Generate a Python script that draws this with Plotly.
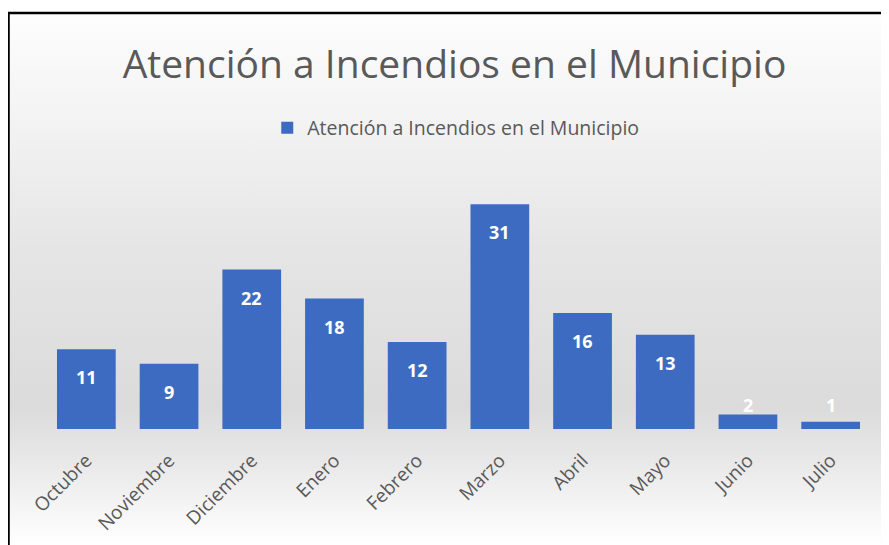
import plotly.graph_objects as go
import urllib.parse

months = ["Octubre", "Noviembre", "Diciembre", "Enero", "Febrero", "Marzo",
          "Abril", "Mayo", "Junio", "Julio"]
values = [11, 9, 22, 18, 12, 31, 16, 13, 2, 1]
series_name = "Atención a Incendios en el Municipio"
title_text = "Atención a Incendios en el Municipio"

OFF = 8  # page body margin
W, H = 889 - OFF, 545 - OFF
# screen pixel targets
PL, PR, PT, PB = 45, 872.5, 160, 429
ML, MT = PL - OFF, PT - OFF
MR, MB = W - (PR - OFF), H - (PB - OFF)
PW, PH = W - ML - MR, H - MT - MB
YMAX = PH / 7.25

def px_x(p):  # screen px -> paper
    return (p - OFF - ML) / PW

def px_y(p):
    return 1 - (p - OFF - MT) / PH

svg = ("<svg xmlns='http://www.w3.org/2000/svg' width='100' height='100' preserveAspectRatio='none'>"
       "<defs><linearGradient id='g' x1='0' y1='0' x2='0' y2='1'>"
       "<stop offset='0' stop-color='#fdfdfd'/>"
       "<stop offset='0.18' stop-color='#f4f4f4'/>"
       "<stop offset='0.45' stop-color='#e5e5e5'/>"
       "<stop offset='0.74' stop-color='#dbdbdb'/>"
       "<stop offset='0.84' stop-color='#e8e8e8'/>"
       "<stop offset='1' stop-color='#ffffff'/>"
       "</linearGradient></defs><rect width='100' height='100' fill='url(#g)'/></svg>")
bg_uri = "data:image/svg+xml;charset=utf-8," + urllib.parse.quote(svg)

fig = go.Figure()
fig.add_trace(go.Bar(
    x=months, y=values, name=series_name,
    marker=dict(color="#3D6BC1", line=dict(width=0)),
    showlegend=True,
))

label_font = dict(family="Open Sans", size=18, color="white")
annotations = []
for m, v in zip(months, values):
    if v * 7.25 < 51:
        annotations.append(dict(x=m, y=0, yshift=24, text="<b>%d</b>" % v, showarrow=False,
                                font=label_font, xref="x", yref="y", yanchor="middle"))
    else:
        annotations.append(dict(x=m, y=v, yshift=-28, text="<b>%d</b>" % v, showarrow=False,
                                font=label_font, xref="x", yref="y", yanchor="middle"))

fig.update_layout(
    width=W, height=H,
    margin=dict(l=ML, r=MR, t=MT, b=MB, pad=0, autoexpand=False),
    paper_bgcolor="white",
    plot_bgcolor="rgba(0,0,0,0)",
    bargap=0.29,
    title=dict(text=title_text, x=(454.5 - OFF) / W, xref="container", xanchor="center",
               y=1 - (64 - OFF) / H, yref="container", yanchor="middle",
               font=dict(family="Open Sans", size=39, color="#595959")),
    legend=dict(orientation="h", x=px_x(456), xanchor="center", y=px_y(128), yanchor="middle",
                font=dict(family="Open Sans", size=19.5, color="#595959"),
                bgcolor="rgba(0,0,0,0)", itemwidth=30),
    xaxis=dict(showgrid=False, showline=False, zeroline=False, ticks="outside",
               ticklen=12, tickcolor="rgba(0,0,0,0)", automargin=False,
               tickangle=-45, tickfont=dict(family="Open Sans", size=19, color="#595959")),
    yaxis=dict(range=[0, YMAX], visible=False, showgrid=False, zeroline=False,
               automargin=False),
    annotations=annotations,
    images=[dict(source=bg_uri, xref="paper", yref="paper",
                 x=px_x(9), y=px_y(14), sizex=px_x(889) - px_x(9), sizey=px_y(14) - px_y(545),
                 xanchor="left", yanchor="top", sizing="stretch", layer="below")],
    shapes=[
        dict(type="line", xref="paper", yref="paper", x0=px_x(0), x1=px_x(889),
             y0=px_y(13), y1=px_y(13), line=dict(color="black", width=2.5)),
        dict(type="line", xref="paper", yref="paper", x0=px_x(8.5), x1=px_x(8.5),
             y0=px_y(12), y1=px_y(545), line=dict(color="black", width=2.5)),
    ],
)

fig.write_html("out.html")
